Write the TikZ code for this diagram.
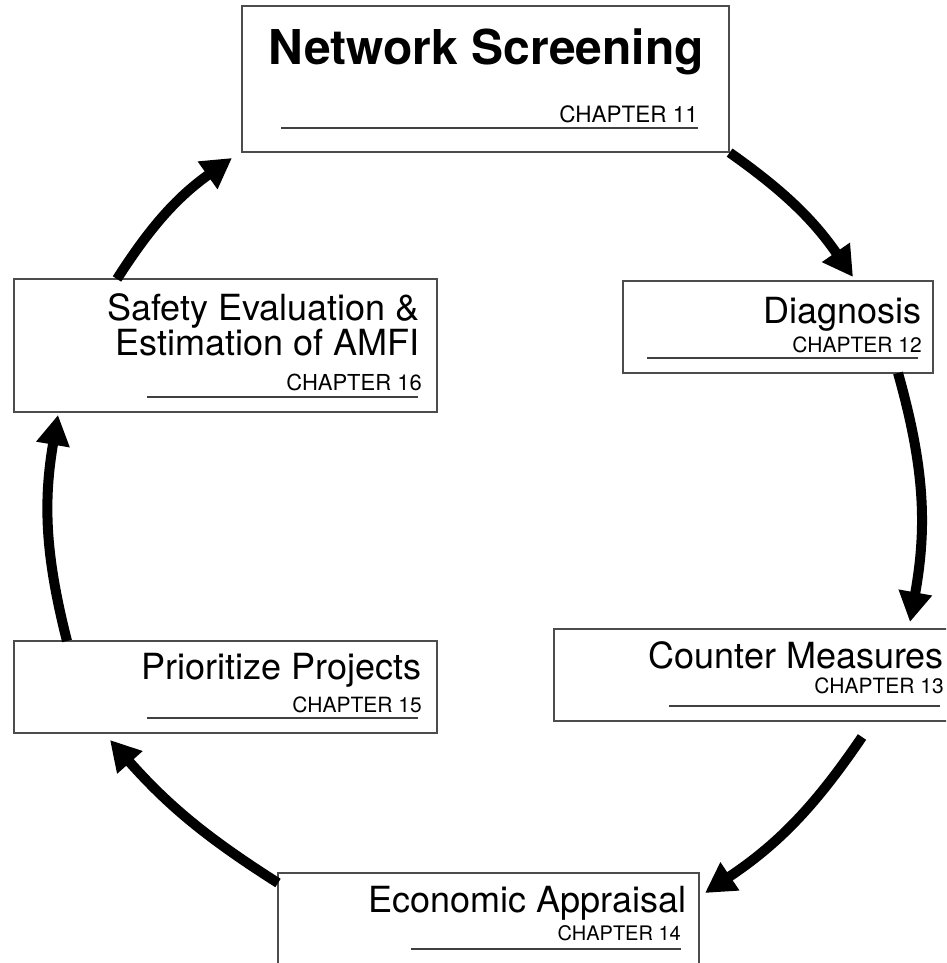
\documentclass[tikz,border=0pt]{standalone}
\usepackage{fontspec}
\setmainfont{TeX Gyre Heros}
\usetikzlibrary{arrows.meta}

\tikzset{
  stage/.style={draw=black!70, line width=1.2pt, inner sep=0pt, fill=white},
  title/.style={anchor=base east, inner sep=0pt, font=\fontsize{36}{32}\selectfont},
  chap/.style={anchor=base east, inner sep=0pt, font=\fontsize{#1}{#1}\selectfont},
  chap/.default=21,
  rule/.style={draw=black!75, line width=1.2pt},
  flow/.style={line width=10pt, -{Triangle[length=30pt,width=32pt]}},
}

\begin{document}
\begin{tikzpicture}[x=1pt, y=1pt]
  \useasboundingbox (0,0) rectangle (946,963);
  \clip (0,0) rectangle (946,963);

  % stages of the cycle
  \node[stage, minimum width=487pt, minimum height=146pt] (screen) at (485.5,884) {};
  \node[stage, minimum width=310pt, minimum height=92pt] (diag) at (778,636) {};
  \node[stage, minimum width=406pt, minimum height=92pt] (counter) at (757,288) {};
  \node[stage, minimum width=421pt, minimum height=92pt] (econ) at (488.5,44) {};
  \node[stage, minimum width=423pt, minimum height=92pt] (prior) at (225.5,276) {};
  \node[stage, minimum width=423pt, minimum height=133pt] (safety) at (225.5,617.5) {};

  % titles and chapters
  \node[title, font=\fontsize{48}{48}\selectfont\bfseries] (screen-t) at (704,898) {Network Screening};
  \node[chap=22.5] (screen-c) at (698,840) {CHAPTER 11};
  \draw[rule] (281,835) -- (698,835);

  \node[title] (diag-t) at (922,639) {Diagnosis};
  \node[chap] (diag-c) at (922,610) {CHAPTER 12};
  \draw[rule] (647,605) -- (918,605);

  \node[title] (counter-t) at (944,294) {Counter Measures};
  \node[chap] (counter-c) at (944,269) {CHAPTER 13};
  \draw[rule] (669,257) -- (940,257);

  \node[title] (econ-t) at (687,50) {Economic Appraisal};
  \node[chap=20] (econ-c) at (681,22) {CHAPTER 14};
  \draw[rule] (411,14) -- (681,14);

  \node[title] (prior-t) at (422,283) {Prioritize Projects};
  \node[chap] (prior-c) at (422,250) {CHAPTER 15};
  \draw[rule] (147,245) -- (418,245);

  \node[title, anchor=north east, align=right] (safety-t) at (420,669.5) {Safety Evaluation \&\\Estimation of AMFI};
  \node[chap=22] (safety-c) at (422,572) {CHAPTER 16};
  \draw[rule] (147,566) -- (418,566);

  % arrow ends
  \coordinate (a1) at (853,686);
  \coordinate (b2) at (898,590);
  \coordinate (a2) at (910,341);
  \coordinate (b3) at (862,226);
  \coordinate (a3) at (705,70);
  \coordinate (b4) at (278,80);
  \coordinate (a4) at (110,223);
  \coordinate (b5) at (67,322);
  \coordinate (a5) at (58,548);
  \coordinate (b6) at (117,684);
  \coordinate (a6) at (232,805);

  % the cycle
  \draw[flow] (screen.south east) to[bend left=10] (a1);
  \draw[flow] (b2) to[bend left=13] (a2);
  \draw[flow] (b3) to[bend left=11] (a3);
  \draw[flow] (b4) to[bend left=8] (a4);
  \draw[flow] (b5) to[bend left=12] (a5);
  \draw[flow] (b6) to[bend left=11] (a6);
\end{tikzpicture}
\end{document}
